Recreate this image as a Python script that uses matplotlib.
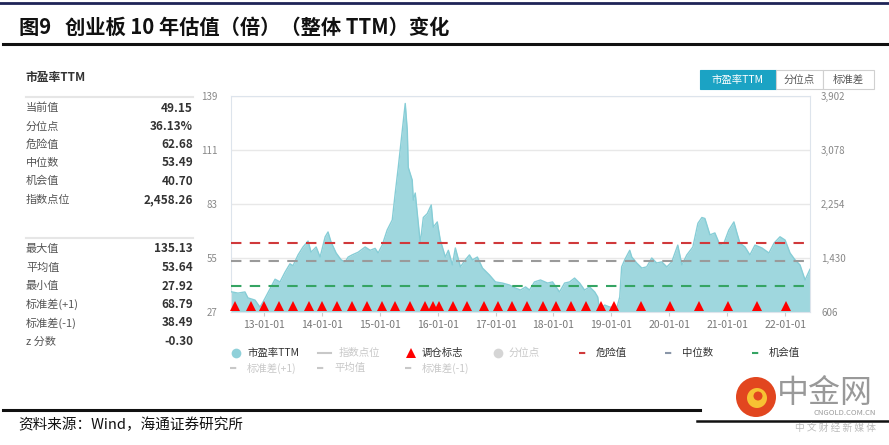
import pandas as pd
import matplotlib
matplotlib.use('Agg')
import matplotlib.pyplot as plt
import matplotlib.dates as mdates
import matplotlib.transforms as mtransforms
from matplotlib.lines import Line2D
from matplotlib.patches import Rectangle, Ellipse
from matplotlib.ticker import FuncFormatter

plt.rcParams['font.family'] = ['Noto Sans CJK SC', 'DejaVu Sans']

# 市盈率TTM
dates = ['2012-06-07', '2012-07-21', '2012-09-03', '2012-09-22', '2012-11-05', '2012-12-07',
         '2013-01-07', '2013-02-14', '2013-03-12', '2013-04-12', '2013-05-14', '2013-06-14',
         '2013-07-03', '2013-08-04', '2013-09-04', '2013-10-06', '2013-10-25', '2013-11-26',
         '2013-12-21', '2014-01-22', '2014-02-09', '2014-02-28', '2014-04-01', '2014-05-03',
         '2014-05-28', '2014-06-16', '2014-07-11', '2014-08-18', '2014-10-01', '2014-11-02',
         '2014-12-03', '2014-12-22', '2015-01-17', '2015-02-17', '2015-03-21', '2015-04-09',
         '2015-04-28', '2015-05-23', '2015-06-11', '2015-06-24', '2015-06-30', '2015-07-25',
         '2015-08-01', '2015-08-13', '2015-09-01', '2015-09-14', '2015-10-03', '2015-10-28',
         '2015-11-22', '2015-12-05', '2015-12-30', '2016-01-18', '2016-02-19', '2016-03-09',
         '2016-04-03', '2016-04-22', '2016-05-24', '2016-06-24', '2016-07-20', '2016-08-08',
         '2016-09-08', '2016-10-10', '2016-11-23', '2016-12-31', '2017-02-13', '2017-03-29',
         '2017-05-06', '2017-06-07', '2017-07-09', '2017-08-03', '2017-09-03', '2017-10-11',
         '2017-11-25', '2017-12-26', '2018-02-08', '2018-03-12', '2018-04-13', '2018-05-14',
         '2018-06-15', '2018-07-16', '2018-08-17', '2018-09-18', '2018-10-07', '2018-10-19',
         '2018-11-20', '2018-12-21', '2019-02-04', '2019-02-23', '2019-03-07', '2019-03-26',
         '2019-04-27', '2019-05-10', '2019-06-10', '2019-07-12', '2019-08-12', '2019-09-13',
         '2019-10-14', '2019-11-15', '2019-12-17', '2020-01-17', '2020-02-24', '2020-03-21',
         '2020-04-21', '2020-05-29', '2020-06-30', '2020-07-25', '2020-08-13', '2020-09-14',
         '2020-10-15', '2020-11-16', '2020-12-11', '2021-01-11', '2021-02-12', '2021-03-03',
         '2021-03-22', '2021-04-23', '2021-05-24', '2021-06-25', '2021-08-08', '2021-09-21',
         '2021-10-23', '2021-11-30', '2022-01-01', '2022-02-01', '2022-03-05', '2022-04-05',
         '2022-05-07', '2022-06-07']
pe = [37.5, 36.8, 37.4, 34.3, 33.2, 29.5,
      34.0, 40.0, 44.0, 42.6, 47.7, 52.0,
      51.0, 56.6, 60.7, 63.8, 58.0, 60.7,
      55.5, 66.0, 68.5, 63.3, 57.6, 54.0,
      53.0, 55.5, 56.6, 58.0, 60.7, 59.0,
      60.0, 57.6, 61.7, 69.5, 74.7, 88.7,
      102.0, 121.0, 135.13, 121.0, 102.0, 95.4,
      85.0, 88.7, 73.0, 62.7, 76.0, 78.0,
      82.5, 71.0, 73.7, 64.3, 55.5, 59.0,
      51.4, 60.2, 50.4, 54.0, 56.6, 54.0,
      55.5, 49.8, 46.2, 42.6, 42.0, 41.0,
      39.4, 38.4, 40.0, 38.4, 42.6, 43.6,
      42.0, 42.6, 37.4, 42.0, 42.6, 44.6,
      42.0, 38.4, 40.0, 37.4, 34.8, 28.0,
      30.6, 29.6, 29.0, 34.8, 50.4, 54.0,
      59.0, 55.5, 52.4, 49.8, 50.4, 55.0,
      52.4, 53.0, 50.4, 53.0, 61.7, 51.4,
      56.6, 60.7, 73.0, 76.0, 75.5, 67.0,
      68.0, 61.7, 62.7, 69.5, 73.7, 68.0,
      62.7, 60.7, 56.6, 61.7, 60.2, 57.6,
      62.7, 66.0, 64.3, 57.6, 54.0, 51.4,
      43.6, 49.15]

# 调仓标志
rebalance = ['2012-07-02', '2012-10-11', '2013-01-04', '2013-04-03', '2013-07-06', '2013-10-12',
             '2014-01-03', '2014-04-07', '2014-07-08', '2014-10-14', '2015-01-17', '2015-04-09',
             '2015-07-10', '2015-10-16', '2015-12-05', '2016-01-12', '2016-04-09', '2016-07-07',
             '2016-10-22', '2017-01-19', '2017-04-17', '2017-07-21', '2017-10-24', '2018-01-20',
             '2018-04-19', '2018-07-23', '2018-10-26', '2019-01-18', '2019-07-09', '2020-01-08',
             '2020-07-09', '2021-01-05', '2021-07-07', '2022-01-06']

danger = 62.68
median = 53.49
chance = 40.70

names_1 = ['当前值', '分位点', '危险值', '中位数', '机会值', '指数点位']
values_1 = ['49.15', '36.13%', '62.68', '53.49', '40.70', '2,458.26']
names_2 = ['最大值', '平均值', '最小值', '标准差(+1)', '标准差(-1)', 'z 分数']
values_2 = ['135.13', '53.64', '27.92', '68.79', '38.49', '-0.30']

pe_ticks = [27, 55, 83, 111, 139]
idx_ticks = [606, 1430, 2254, 3078, 3902]

W, H = 889, 445
fig = plt.figure(figsize=(W / 100, H / 100), dpi=100)


def fx(px):
    return px / W


def fy(py):
    return 1 - py / H


def hline(x0, x1, y, color, lw):
    fig.add_artist(Line2D([fx(x0), fx(x1)], [fy(y), fy(y)], color=color, lw=lw,
                          transform=fig.transFigure))


# 标题
hline(0, 889, 3, '#1e2457', 2)
fig.text(fx(19), fy(27), '图9   创业板 10 年估值（倍）（整体 TTM）变化', fontsize=14.6,
         fontweight='bold', va='center', color='#111')
hline(3, 889, 44, '#111', 2.2)

# 左侧统计
fig.text(fx(26), fy(78), '市盈率TTM', fontsize=8.5, fontweight='bold', color='#333', va='center')
hline(26, 193, 97, '#e6e6e6', 1.5)
for i, (n, v) in enumerate(zip(names_1, values_1)):
    y = 108 + 18.3 * i
    fig.text(fx(26), fy(y), n, fontsize=8, color='#555', va='center')
    fig.text(fx(193), fy(y), v, fontsize=8.5, fontweight='bold', color='#333', va='center', ha='right')
hline(26, 193, 238, '#e6e6e6', 1.5)
for i, (n, v) in enumerate(zip(names_2, values_2)):
    y = 249 + 18.5 * i
    fig.text(fx(26), fy(y), n, fontsize=8, color='#555', va='center')
    fig.text(fx(193), fy(y), v, fontsize=8.5, fontweight='bold', color='#333', va='center', ha='right')

# 主图
d = pd.to_datetime(dates)
ax = fig.add_axes([fx(231), fy(312), fx(810) - fx(231), fy(96) - fy(312)])
ax.fill_between(d, pe_ticks[0], pe, color='#9fd7de', lw=0, zorder=2)
ax.plot(d, pe, color='#86cdd6', lw=1, zorder=3)
ax.axhline(danger, color='#d0393b', lw=1.5, ls=(0, (5, 4)), zorder=4)
ax.axhline(median, color='#9a9a9a', lw=1.5, ls=(0, (5, 4)), zorder=4)
ax.axhline(chance, color='#35a463', lw=1.5, ls=(0, (5, 4)), zorder=4)

tri = mtransforms.blended_transform_factory(ax.transData, ax.transAxes)
ax.plot(mdates.date2num(pd.to_datetime(rebalance)), [0.028] * len(rebalance), '^',
        color='#ff0000', ms=7.5, mew=0, transform=tri, zorder=6, clip_on=False)

ax.set_xlim(d[0], d[-1])
ax.set_ylim(pe_ticks[0], pe_ticks[-1])
ax.set_yticks(pe_ticks)
ax.yaxis.grid(True, color='#e8e8e8', lw=1)
ax.set_axisbelow(True)
ax.xaxis.set_major_locator(mdates.YearLocator())
ax.xaxis.set_major_formatter(mdates.DateFormatter('%y-%m-%d'))
ax.tick_params(axis='x', labelsize=7.5, labelcolor='#777', color='#cccccc', length=3, pad=3)
ax.tick_params(axis='y', labelsize=7, labelcolor='#888', length=0, pad=10)
for s in ax.spines.values():
    s.set_color('#dde4ec')

ax2 = ax.twinx()
ax2.set_ylim(idx_ticks[0], idx_ticks[-1])
ax2.set_yticks(idx_ticks)
ax2.yaxis.set_major_formatter(FuncFormatter(lambda v, p: f'{v:,.0f}'))
ax2.tick_params(axis='y', labelsize=7, labelcolor='#888', length=0, pad=8)
for s in ax2.spines.values():
    s.set_visible(False)

# 图例
active = '#333333'
inactive = '#c8c8c8'


def legend_item(x, y, kind, color, label, tcolor):
    if kind == 'circle':
        fig.add_artist(Line2D([fx(x)], [fy(y)], marker='o', ms=7, color=color, mew=0,
                              transform=fig.transFigure))
        tx = x + 11
    elif kind == 'tri':
        fig.add_artist(Line2D([fx(x)], [fy(y)], marker='^', ms=7, color=color, mew=0,
                              transform=fig.transFigure))
        tx = x + 11
    elif kind == 'line':
        fig.add_artist(Line2D([fx(x - 5), fx(x + 8)], [fy(y), fy(y)], color=color, lw=1.5,
                              transform=fig.transFigure))
        tx = x + 16
    else:
        fig.add_artist(Line2D([fx(x - 5), fx(x + 6)], [fy(y), fy(y)], color=color, lw=1.5,
                              ls=(0, (3, 4)), transform=fig.transFigure))
        tx = x + 12
    fig.text(fx(tx), fy(y), label, fontsize=7.5, color=tcolor, va='center')


legend_item(236, 353, 'circle', '#8fd0d9', '市盈率TTM', active)
legend_item(323, 353, 'line', inactive, '指数点位', inactive)
legend_item(411, 353, 'tri', '#ff0000', '调仓标志', active)
legend_item(498, 353, 'circle', '#d5d5d5', '分位点', inactive)
legend_item(584, 353, 'dash', '#d0393b', '危险值', active)
legend_item(670, 353, 'dash', '#8a96a8', '中位数', active)
legend_item(757, 353, 'dash', '#35a463', '机会值', active)
legend_item(235, 368, 'dash', inactive, '标准差(+1)', inactive)
legend_item(322, 368, 'dash', inactive, '平均值', inactive)
legend_item(410, 368, 'dash', inactive, '标准差(-1)', inactive)

# 右上按钮
buttons = [('市盈率TTM', 700, 776, True), ('分位点', 776, 823, False), ('标准差', 823, 874, False)]
for lab, x0, x1, on in buttons:
    fig.add_artist(Rectangle((fx(x0), fy(89)), fx(x1) - fx(x0), fy(70) - fy(89),
                             transform=fig.transFigure,
                             facecolor='#1ba3c4' if on else 'white',
                             edgecolor='#1ba3c4' if on else '#d0d0d0', lw=0.8))
    fig.text(fx((x0 + x1) / 2), fy(79.5), lab, fontsize=7.5, ha='center', va='center',
             color='white' if on else '#555')

# 底部
hline(3, 700, 410, '#111', 2.2)
fig.text(fx(18), fy(425), '资料来源：Wind，海通证券研究所', fontsize=10.5, va='center', color='#111')
hline(697, 889, 421, '#111', 1.8)
fig.add_artist(Ellipse((fx(756), fy(397)), 40 / W, 40 / H, transform=fig.transFigure,
                       facecolor='#e2461f', edgecolor='none'))
fig.add_artist(Ellipse((fx(757), fy(398)), 20 / W, 20 / H, transform=fig.transFigure,
                       facecolor='#f7c233', edgecolor='none'))
fig.add_artist(Ellipse((fx(758), fy(396)), 9 / W, 9 / H, transform=fig.transFigure,
                       facecolor='#e2461f', edgecolor='none'))
fig.text(fx(777), fy(393), '中金网', fontsize=23, color='#999999', va='center')
fig.text(fx(876), fy(413), 'CNGOLD.COM.CN', fontsize=5.5, color='#999', va='center', ha='right')
fig.text(fx(876), fy(428), '中 文 财 经 新 媒 体', fontsize=7, color='#bbb', va='center', ha='right')

fig.savefig('out.png', dpi=100)
